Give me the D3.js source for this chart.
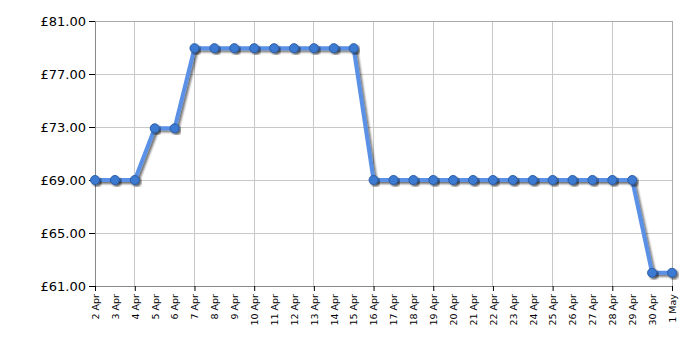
<!DOCTYPE html>
<html>
<head>
<meta charset="utf-8">
<script src="https://cdn.jsdelivr.net/npm/d3@7"></script>
<style>
	body { margin: 0; background: #fff; }
	svg text { font-family: "DejaVu Sans", Verdana, sans-serif; }
</style>
</head>
<body>
<svg id="chart" width="700" height="350"></svg>
<script>
// data
var days = ["2 Apr","3 Apr","4 Apr","5 Apr","6 Apr","7 Apr","8 Apr","9 Apr","10 Apr","11 Apr",
	"12 Apr","13 Apr","14 Apr","15 Apr","16 Apr","17 Apr","18 Apr","19 Apr","20 Apr","21 Apr",
	"22 Apr","23 Apr","24 Apr","25 Apr","26 Apr","27 Apr","28 Apr","29 Apr","30 Apr","1 May"];
var prices = [69,69,69,72.9,72.9,78.95,78.95,78.95,78.95,78.95,
	78.95,78.95,78.95,78.95,69,69,69,69,69,69,
	69,69,69,69,69,69,69,69,62,62];
var yTicks = [61,65,69,73,77,81];
var gridDays = ["4 Apr","7 Apr","10 Apr","13 Apr","16 Apr","19 Apr","22 Apr","25 Apr","28 Apr","1 May"];

var svg = d3.select("#chart");
var pLeft = 95, pRight = 672, pTop = 21, pBottom = 286;

var x = d3.scalePoint().domain(days).range([pLeft, pRight]);
var y = d3.scaleLinear().domain([61, 81]).range([pBottom, pTop]);

// shadow filter
var defs = svg.append("defs");
var f = defs.append("filter").attr("id", "sh").attr("x", "-20%").attr("y", "-20%").attr("width", "140%").attr("height", "140%");
f.append("feGaussianBlur").attr("in", "SourceAlpha").attr("stdDeviation", 0.8);
f.append("feOffset").attr("dx", 2).attr("dy", 2).attr("result", "o");
f.append("feComponentTransfer").append("feFuncA").attr("type", "linear").attr("slope", 0.55);
var m = f.append("feMerge");
m.append("feMergeNode");
m.append("feMergeNode").attr("in", "SourceGraphic");

// grid
svg.append("g").selectAll("line").data(yTicks).join("line")
	.attr("x1", pLeft).attr("x2", pRight)
	.attr("y1", d => y(d)).attr("y2", d => y(d))
	.attr("stroke", "#c8c8c8").attr("stroke-width", 1).attr("shape-rendering", "crispEdges");
svg.append("g").selectAll("line").data(gridDays).join("line")
	.attr("x1", d => x(d)).attr("x2", d => x(d))
	.attr("y1", pTop).attr("y2", pBottom)
	.attr("stroke", "#c8c8c8").attr("stroke-width", 1).attr("shape-rendering", "crispEdges");
svg.append("line").attr("x1", pRight).attr("x2", pRight).attr("y1", pTop).attr("y2", pBottom)
	.attr("stroke", "#aaa").attr("shape-rendering", "crispEdges");
svg.append("line").attr("x1", pLeft).attr("x2", pRight).attr("y1", pTop).attr("y2", pTop)
	.attr("stroke", "#aaa").attr("shape-rendering", "crispEdges");

// y axis
var yAxis = d3.axisLeft(y).tickValues(yTicks).tickSize(6).tickPadding(3)
	.tickFormat(d => "£" + d3.format(".2f")(d));
var gy = svg.append("g").attr("transform", "translate(" + pLeft + ",0)").call(yAxis);
gy.select(".domain").attr("stroke", "#888");
gy.selectAll(".tick line").attr("stroke", "#000");
gy.selectAll("text").attr("font-size", 13).attr("fill", "#000")
	.attr("font-family", "'DejaVu Sans', Verdana, sans-serif");

// x axis
var xAxis = d3.axisBottom(x).tickSize(0).tickPadding(5);
var gx = svg.append("g").attr("transform", "translate(0," + pBottom + ")").call(xAxis);
gx.select(".domain").attr("stroke", "#888");
gx.selectAll(".tick").each(function(d) {
	if (gridDays.indexOf(d) >= 0 || d == "2 Apr") d3.select(this).select("line").attr("y2", 5).attr("stroke", "#000");
});
gx.selectAll("text")
	.attr("font-size", 9.5).attr("fill", "#000")
	.attr("font-family", "'DejaVu Sans', Verdana, sans-serif")
	.attr("transform", "rotate(-90)")
	.attr("text-anchor", "end")
	.attr("x", -8).attr("y", 0).attr("dy", "0.35em");

// line
var line = d3.line().x((d, i) => x(days[i])).y(d => y(d));
svg.append("path").datum(prices)
	.attr("d", line)
	.attr("fill", "none")
	.attr("stroke", "#5a90e6")
	.attr("stroke-width", 4)
	.attr("stroke-linejoin", "round")
	.attr("filter", "url(#sh)");

svg.append("g").selectAll("circle").data(prices).join("circle")
	.attr("cx", (d, i) => x(days[i]))
	.attr("cy", d => y(d))
	.attr("r", 4.5)
	.attr("fill", "#3d7ad2")
	.attr("stroke", "#2a5ea8")
	.attr("stroke-width", 1)
	.attr("filter", "url(#sh)");
</script>
</body>
</html>
